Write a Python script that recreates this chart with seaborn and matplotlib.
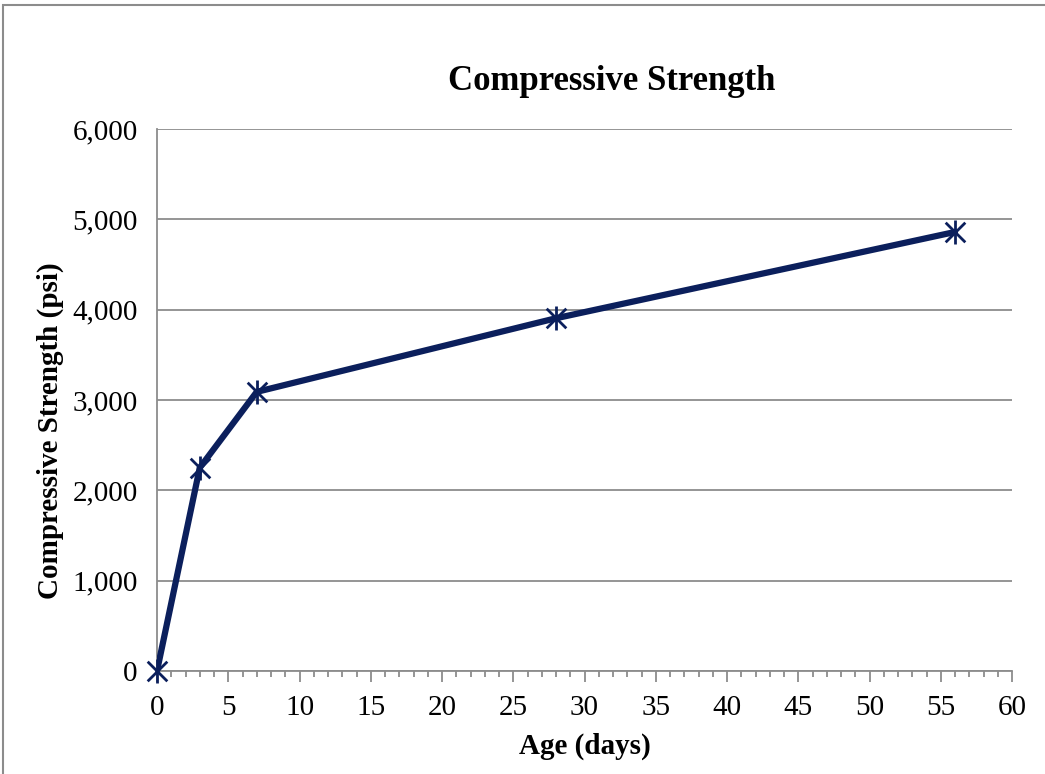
import matplotlib
matplotlib.use("Agg")
import matplotlib.pyplot as plt
import seaborn as sns
import pandas as pd
from matplotlib.ticker import MultipleLocator, FuncFormatter
from matplotlib.patches import Rectangle

age_days = [0, 3, 7, 28, 56]
strength_psi = [0, 2250, 3090, 3905, 4860]

df = pd.DataFrame({"age": age_days, "strength": strength_psi})

sns.set_style("white")
plt.rcParams['font.family'] = ['Liberation Serif', 'DejaVu Serif']
plt.rcParams['text.color'] = 'black'
plt.rcParams['axes.labelcolor'] = 'black'
plt.rcParams['xtick.color'] = 'black'
plt.rcParams['ytick.color'] = 'black'

fig = plt.figure(figsize=(10.45, 7.74), dpi=100)
ax = fig.add_axes([157/1045, 1-671/774, (1012-157)/1045, (671-129)/774])

line_color = "#0b1f5c"
sns.lineplot(data=df, x="age", y="strength", ax=ax, color=line_color, linewidth=4.5,
             zorder=3)
sns.scatterplot(data=df, x="age", y="strength", ax=ax, marker="x", s=200, color=line_color,
                linewidth=2, zorder=4, clip_on=False)
sns.scatterplot(data=df, x="age", y="strength", ax=ax, marker="|", s=280, color=line_color,
                linewidth=2, zorder=4, clip_on=False)

ax.set_xlim(0, 60)
ax.set_ylim(0, 6000)
ax.xaxis.set_major_locator(MultipleLocator(5))
ax.xaxis.set_minor_locator(MultipleLocator(1))
ax.yaxis.set_major_locator(MultipleLocator(1000))
ax.yaxis.set_major_formatter(FuncFormatter(lambda v, p: f"{int(v):,}"))

ax.grid(axis="y", color="#8c8c8c", linewidth=1.3)
ax.set_axisbelow(True)
for s in ["top", "right"]:
    ax.spines[s].set_visible(False)
for s in ["left", "bottom"]:
    ax.spines[s].set_color("#8c8c8c")
    ax.spines[s].set_linewidth(1.3)

ax.tick_params(axis="x", which="major", direction="out", length=8, width=1.3, color="#8c8c8c",
               labelcolor="black", labelsize=21, pad=9, bottom=True)
ax.tick_params(axis="x", which="minor", direction="out", length=4, width=1.3, color="#8c8c8c",
               bottom=True)
ax.tick_params(axis="y", which="major", length=0, labelsize=21, pad=14, left=False,
               labelcolor="black")

ax.set_xlabel("Age (days)", fontsize=21, fontweight="bold", labelpad=9, color="black")
ax.set_ylabel("")
fig.text(50/1045, 1-431/774, "Compressive Strength (psi)", rotation=90, ha="center",
         va="center", fontsize=21, fontweight="bold", color="black")

fig.text(612/1045, 1-82/774, "Compressive Strength", ha="center", va="center",
         fontsize=25, fontweight="bold", color="black")

fig.patches.append(Rectangle((3/1045, -0.05), 1.2, 1.05 - 5/774,
                             transform=fig.transFigure, fill=False,
                             edgecolor="#8c8c8c", linewidth=1.5))

fig.savefig("out.png", dpi=100)
